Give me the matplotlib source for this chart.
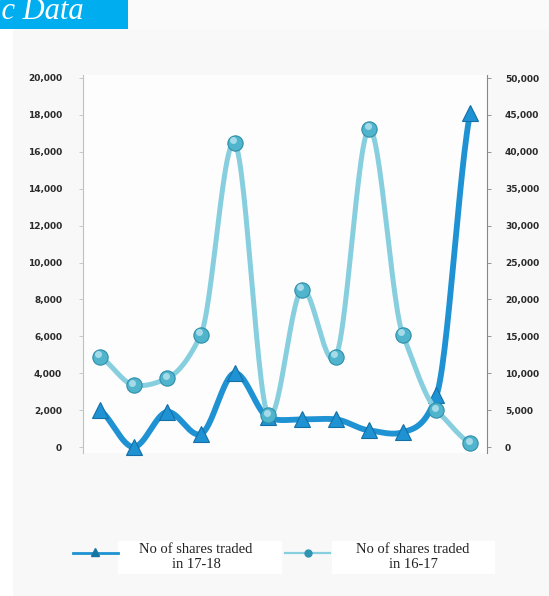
import numpy as np
import matplotlib
matplotlib.use("Agg")
import matplotlib.pyplot as plt
from matplotlib.lines import Line2D
from matplotlib.patches import Rectangle
from matplotlib.ticker import FuncFormatter
import matplotlib.transforms as mtransforms

# Monthly shares traded (12 periods)
periods = list(range(12))
shares_17_18 = [2000, 0, 1900, 700, 4000, 1600, 1500, 1500, 900, 800, 2800, 18100]
shares_16_17 = [12200, 8400, 9300, 15200, 41200, 4300, 21300, 12200, 43100, 15200, 5000, 500]

left_ticks = [0, 2000, 4000, 6000, 8000, 10000, 12000, 14000, 16000, 18000, 20000]
right_ticks = [0, 5000, 10000, 15000, 20000, 25000, 30000, 35000, 40000, 45000, 50000]

label_17_18 = "No of shares traded\nin 17-18"
label_16_17 = "No of shares traded\nin 16-17"
banner_text = "ic Data"

DARK = "#1E92D2"
DARK_EDGE = "#156FA6"
LIGHT = "#87CFDE"
BALL = "#4FB4CC"
BALL_EDGE = "#2E8FAA"
BALL_HI = "#B5E3EE"

W, H = 549, 596


def fx(px):
    return px / W


def fy(py):
    return 1 - py / H


def smooth(xs, ys, n=30, tension=0.6):
    """Cardinal spline through the points, like a smoothed line chart."""
    xs = np.asarray(xs, float)
    ys = np.asarray(ys, float)
    px = np.concatenate([[2 * xs[0] - xs[1]], xs, [2 * xs[-1] - xs[-2]]])
    py = np.concatenate([[2 * ys[0] - ys[1]], ys, [2 * ys[-1] - ys[-2]]])
    out_x, out_y = [], []
    t = np.linspace(0, 1, n)
    for i in range(1, len(px) - 2):
        m0x = (px[i + 1] - px[i - 1]) / 2
        m1x = (px[i + 2] - px[i]) / 2
        m0y = tension * (py[i + 1] - py[i - 1]) / 2
        m1y = tension * (py[i + 2] - py[i]) / 2
        if i == 1:
            m0y = tension * (py[i + 1] - py[i])
        if i == len(px) - 3:
            m1y = tension * (py[i + 1] - py[i])
        h00 = 2 * t**3 - 3 * t**2 + 1
        h10 = t**3 - 2 * t**2 + t
        h01 = -2 * t**3 + 3 * t**2
        h11 = t**3 - t**2
        out_x.append(h00 * px[i] + h10 * m0x + h01 * px[i + 1] + h11 * m1x)
        out_y.append(h00 * py[i] + h10 * m0y + h01 * py[i + 1] + h11 * m1y)
    return np.concatenate(out_x), np.concatenate(out_y)


fig = plt.figure(figsize=(W / 100, H / 100), dpi=100)
fig.patch.set_facecolor("white")

# page panel and header banner
fig.add_artist(Rectangle((fx(13), 0), 1 - fx(13), fy(29), transform=fig.transFigure,
                         facecolor="#F8F8F8", edgecolor="none", zorder=0))
fig.add_artist(Rectangle((fx(128), fy(29)), 1 - fx(128), 1 - fy(29), transform=fig.transFigure,
                         facecolor="#FAFAFA", edgecolor="none", zorder=0))
fig.add_artist(Rectangle((0, fy(29)), fx(128), 1 - fy(29), transform=fig.transFigure,
                         facecolor="#00AEEF", edgecolor="none", zorder=1))
fig.text(fx(84), fy(19), banner_text, ha="right", va="baseline", color="white",
         fontsize=22, family="Liberation Serif", style="italic", zorder=2)

# axes geometry: 0 at y=447 px, 20,000 at y=78 px
ppu = (447 - 78) / 20000
ymin, ymax = -300, 20150
bot_px = 447 - ymin * ppu
top_px = 78 - (ymax - 20000) * ppu
ax = fig.add_axes([fx(83), fy(bot_px), fx(487) - fx(83), fy(top_px) - fy(bot_px)])
ax2 = ax.twinx()

for a in (ax, ax2):
    a.set_facecolor("none")
    a.set_xlim(-0.5, 11.5)
    for s in ("top", "bottom"):
        a.spines[s].set_visible(False)
    a.set_xticks([])

ax.patch.set_facecolor("#FDFDFD")
ax.patch.set_visible(True)
ax.set_ylim(ymin, ymax)
ax2.set_ylim(ymin * 2.5, ymax * 2.5)

ax.spines["left"].set_color("#B9C2CA")
ax.spines["right"].set_visible(False)
ax2.spines["right"].set_color("#7F8A95")
ax2.spines["left"].set_visible(False)

fmt = FuncFormatter(lambda v, p: f"{int(v):,}")
ax.set_yticks(left_ticks)
ax.yaxis.set_major_formatter(fmt)
ax2.set_yticks(right_ticks)
ax2.yaxis.set_major_formatter(fmt)
ax.tick_params(axis="y", length=3, width=0.6, color="#B9C2CA", pad=12,
               labelsize=6.5, labelcolor="#2A2A2A")
ax2.tick_params(axis="y", length=3, width=0.6, color="#7F8A95", pad=10,
                labelsize=6.5, labelcolor="#2A2A2A")
for lab in ax.get_yticklabels() + ax2.get_yticklabels():
    lab.set_fontweight("bold")

# 17-18 series (left axis): smoothed line with triangle markers
sx, sy = smooth(periods, shares_17_18)
ax.plot(sx, sy, color=DARK, lw=4.2, solid_capstyle="round", zorder=2, clip_on=False)
ax.plot(periods, shares_17_18, linestyle="none", marker="^", markersize=11,
        markerfacecolor=DARK, markeredgecolor=DARK_EDGE, markeredgewidth=0.8,
        zorder=3, clip_on=False)

# 16-17 series (right axis): smoothed line with ball markers
ax2.set_zorder(ax.get_zorder() + 1)
sx, sy = smooth(periods, shares_16_17)
ax2.plot(sx, sy, color=LIGHT, lw=3.6, solid_capstyle="round", zorder=2, clip_on=False)
ax2.plot(periods, shares_16_17, linestyle="none", marker="o", markersize=11,
         markerfacecolor=BALL, markeredgecolor=BALL_EDGE, markeredgewidth=0.8,
         zorder=3, clip_on=False)
hi = mtransforms.offset_copy(ax2.transData, fig=fig, x=-1.2, y=1.8, units="points")
ax2.plot(periods, shares_16_17, linestyle="none", marker="o", markersize=5,
         markerfacecolor=BALL_HI, markeredgecolor="none", alpha=0.85,
         transform=hi, zorder=4, clip_on=False)

# legend
fig.add_artist(Line2D([fx(73), fx(118)], [fy(553), fy(553)], transform=fig.transFigure,
                      color=DARK, lw=2, zorder=3))
fig.add_artist(Line2D([fx(95)], [fy(552)], transform=fig.transFigure, marker="^",
                      markersize=6, color="#17739F", zorder=4))
fig.add_artist(Rectangle((fx(118), fy(574)), fx(282) - fx(118), fy(541) - fy(574),
                         transform=fig.transFigure, facecolor="white", edgecolor="none", zorder=2))
fig.text(fx(196), fy(557), label_17_18, ha="center", va="center", multialignment="center",
         fontsize=10.5, family="Liberation Serif", color="#222222", linespacing=1.15, zorder=3)

fig.add_artist(Line2D([fx(285), fx(330)], [fy(553), fy(553)], transform=fig.transFigure,
                      color=LIGHT, lw=1.6, zorder=3))
fig.add_artist(Line2D([fx(308)], [fy(553)], transform=fig.transFigure, marker="o",
                      markersize=6, markerfacecolor="#2F95B2", markeredgecolor="none", zorder=4))
fig.add_artist(Rectangle((fx(332), fy(574)), fx(495) - fx(332), fy(541) - fy(574),
                         transform=fig.transFigure, facecolor="white", edgecolor="none", zorder=2))
fig.text(fx(413), fy(557), label_16_17, ha="center", va="center", multialignment="center",
         fontsize=10.5, family="Liberation Serif", color="#222222", linespacing=1.15, zorder=3)

fig.savefig("out.png", dpi=100, facecolor=fig.get_facecolor())
